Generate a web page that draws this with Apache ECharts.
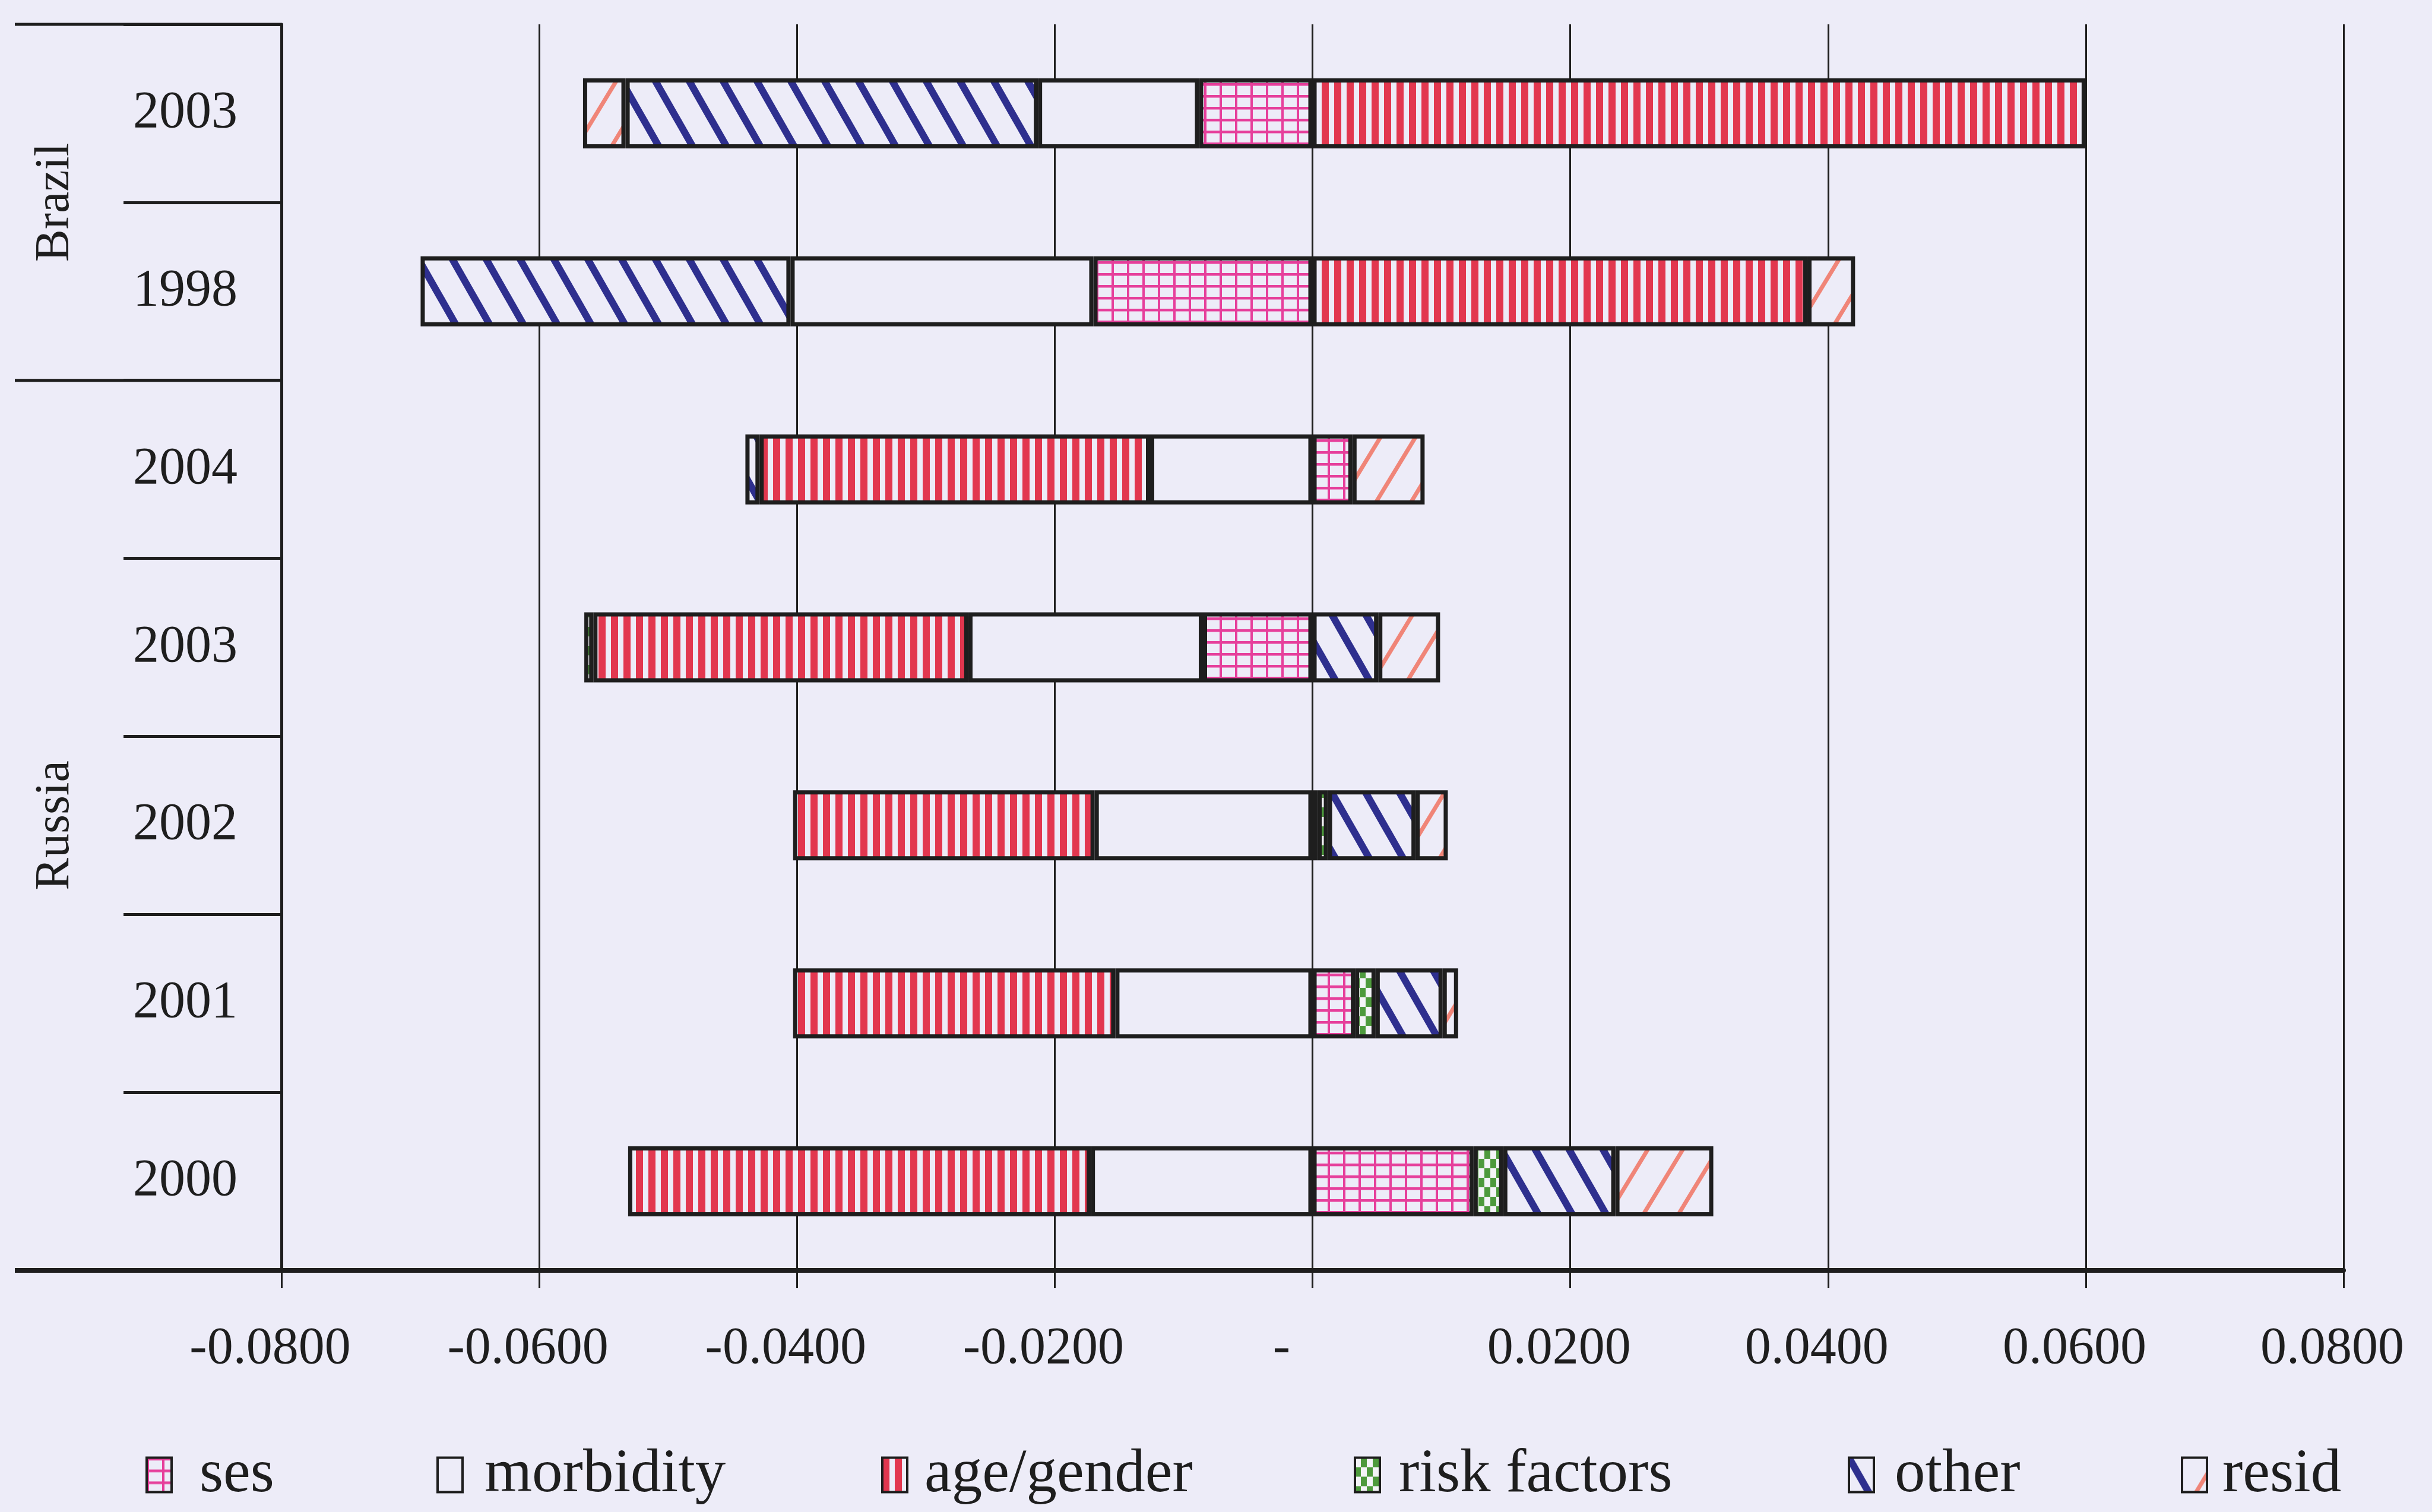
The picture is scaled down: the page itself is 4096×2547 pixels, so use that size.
<!DOCTYPE html>
<html>
<head>
<meta charset="utf-8">
<script src="https://cdn.jsdelivr.net/npm/echarts@6/dist/echarts.min.js"></script>
<style>
  html, body { margin: 0; padding: 0; background: #edecf8; }
  #chart { width: 4096px; height: 2547px; }
</style>
</head>
<body>
<div id="chart"></div>
<script>
// Decomposition of changes, by component, top row first
const years     = ['2003', '1998', '2004', '2003', '2002', '2001', '2000'];
const countries = ['Brazil', 'Brazil', 'Russia', 'Russia', 'Russia', 'Russia', 'Russia'];

const ses         = [-0.0088, -0.0170,  0.0031, -0.0085,  0.0004,  0.0033,  0.0125];
const morbidity   = [-0.0125, -0.0235, -0.0126, -0.0182, -0.0169, -0.0153, -0.0172];
const ageGender   = [ 0.0600,  0.0384, -0.0303, -0.0291, -0.0234, -0.0250, -0.0359];
const riskFactors = [   null,    null,    null, -0.0007,  0.0008,  0.0016,  0.0023];
const other       = [-0.0320, -0.0287, -0.0011,  0.0051,  0.0068,  0.0052,  0.0087];
const resid       = [-0.0033,  0.0037,  0.0056,  0.0048,  0.0025,  0.0012,  0.0076];

const seriesNames = ['ses', 'morbidity', 'age/gender', 'risk factors', 'other', 'resid'];
const seriesData  = [ses, morbidity, ageGender, riskFactors, other, resid];

const xMin = -0.08, xMax = 0.08, xStep = 0.02;

// ---- look ----
const BG = '#edecf8';
const INK = '#1e1e1e';
const FONT = 'Liberation Serif';

function pattern(w, h, draw) {
  const c = document.createElement('canvas');
  c.width = w; c.height = h;
  const g = c.getContext('2d');
  g.fillStyle = BG;
  g.fillRect(0, 0, w, h);
  draw(g, w, h);
  return { image: c, repeat: 'repeat' };
}

// seamless diagonal hatching: each line is drawn well past the tile edges
function diagonal(w, h, color, lw, down) {
  return pattern(w, h, (g) => {
    g.strokeStyle = color;
    g.lineWidth = lw;
    for (let k = -2; k <= 2; k++) {
      g.beginPath();
      if (down) { g.moveTo(k * w - w, -h); g.lineTo(k * w + 2 * w, 2 * h); }
      else { g.moveTo(k * w + 2 * w, -h); g.lineTo(k * w - w, 2 * h); }
      g.stroke();
    }
  });
}

const fills = [
  // ses: magenta grid
  pattern(26, 20, (g, w, h) => {
    g.fillStyle = '#e63f9b';
    g.fillRect(0, 0, 4, h);
    g.fillRect(0, 0, w, 4.5);
  }),
  // morbidity: plain
  BG,
  // age/gender: red vertical stripes
  pattern(21, 8, (g, w, h) => {
    g.fillStyle = '#e2374f';
    g.fillRect(0, 0, 12, h);
  }),
  // risk factors: green checks
  pattern(20, 32, (g, w, h) => {
    g.fillStyle = '#4d9a3c';
    g.fillRect(0, 0, w, h);
    g.fillStyle = '#f4f4f8';
    g.fillRect(0, 0, 10, 16);
    g.fillRect(10, 16, 10, 16);
  }),
  // other: navy "\" hatching
  diagonal(57, 100, '#2e2f8e', 12, true),
  // resid: salmon "/" hatching
  diagonal(59, 97, '#f08578', 7, false)
];

// legend placement along the bottom row
const legendLayout = [
  { left: 245, pad: 42 },
  { left: 735, pad: 32 },
  { left: 1484, pad: 24 },
  { left: 2280, pad: 27 },
  { left: 3112, pad: 30 },
  { left: 3673, pad: 21 }
];

const categoryKeys = years.map((y, i) => countries[i] + ' ' + y);

const chart = echarts.init(document.getElementById('chart'), null, { renderer: 'canvas' });

const option = {
  backgroundColor: BG,
  animation: false,
  grid: { left: 474, right: 149, top: 41, bottom: 407, containLabel: false },
  xAxis: {
    type: 'value',
    min: xMin, max: xMax, interval: xStep,
    axisLine: { show: true, lineStyle: { color: INK, width: 8 } },
    axisTick: { show: true, length: 30, lineStyle: { color: INK, width: 3 } },
    splitLine: { show: true, lineStyle: { color: INK, width: 3 } },
    axisLabel: {
      margin: 89,
      formatter: (v) => Math.abs(v) < 1e-9 ? '{z|-}' : '{n|' + v.toFixed(4) + '}',
      rich: {
        n: { fontFamily: FONT, fontSize: 88, color: INK, padding: [0, 38, 0, 0] },
        z: { fontFamily: FONT, fontSize: 88, color: INK, padding: [0, 104, 0, 0] }
      }
    }
  },
  yAxis: {
    type: 'category',
    inverse: true,
    data: categoryKeys,
    axisLine: { show: true, onZero: false, lineStyle: { color: INK, width: 5 } },
    axisTick: { show: true, length: 266, lineStyle: { color: INK, width: 5 } },
    axisLabel: {
      margin: 162,
      align: 'center',
      fontFamily: FONT, fontSize: 88, color: INK,
      formatter: (v, i) => years[i]
    },
    splitLine: { show: false }
  },
  legend: seriesNames.map((name, i) => ({
    data: [name],
    left: legendLayout[i].left,
    top: 2462 - 29,
    padding: 0,
    icon: 'rect',
    itemWidth: 42,
    itemHeight: 58,
    selectedMode: false,
    itemStyle: { borderColor: INK, borderWidth: 4 },
    textStyle: { fontFamily: FONT, fontSize: 103, color: INK, padding: [0, 0, 0, legendLayout[i].pad] }
  })),
  series: seriesNames.map((name, i) => ({
    name: name,
    type: 'bar',
    stack: 'total',
    barWidth: 118,
    data: seriesData[i],
    itemStyle: { color: fills[i], borderColor: INK, borderWidth: 7 },
    emphasis: { disabled: true }
  }))
};

chart.setOption(option);

// group separators and country names on the left, placed from the category axis
const yc = categoryKeys.map((k, i) => chart.convertToPixel({ yAxisIndex: 0 }, i));
const band = yc[1] - yc[0];
const gridLeft = option.grid.left;
const groupLines = [yc[0] - band / 2, (yc[1] + yc[2]) / 2, yc[6] + band / 2];
const graphics = groupLines.map((y, i) => ({
  type: 'line',
  shape: { x1: 25, y1: y, x2: gridLeft, y2: y },
  style: { stroke: INK, lineWidth: i === 2 ? 8 : 5 },
  z: 10
}));
const groups = [
  { name: 'Brazil', y: (yc[0] + yc[1]) / 2 },
  { name: 'Russia', y: yc[4] }
];
groups.forEach((gp) => {
  graphics.push({
    type: 'text',
    x: 93, y: gp.y,
    rotation: Math.PI / 2,
    style: {
      text: gp.name,
      fontFamily: FONT, fontSize: 82, fill: INK,
      textAlign: 'center', textVerticalAlign: 'middle'
    },
    z: 10
  });
});
chart.setOption({ graphic: graphics });
</script>
</body>
</html>
